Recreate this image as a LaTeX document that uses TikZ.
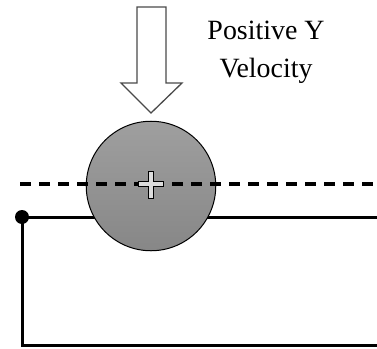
\documentclass[tikz,border=0pt]{standalone}
\usepackage{fontspec}
\setmainfont{Liberation Serif}
\definecolor{ink}{HTML}{000000}
\definecolor{muted}{HTML}{4A4A4A}
\definecolor{ballgrey}{HTML}{8E8E8E}
\definecolor{crossgrey}{HTML}{DDDDDD}
\newcommand{\figfontsize}{\fontsize{28}{38}\selectfont}
\tikzset{
  every picture/.style = {font=\figfontsize, line join=miter},
  wire/.style          = {line width=3bp, ink},
  track/.style         = {line width=3.8bp, ink, dash pattern=on 11bp off 8bp},
  hollow/.style        = {line width=1.3bp, draw=muted, fill=white},
}

\begin{document}
\begin{tikzpicture}[x=1bp, y=-1bp]
  \def\Cx{151}\def\Cy{186}\def\R{65}     % ball centre and radius
  \def\Ly{184}                           % the dashed line
  \def\Wy{217}\def\Bot{345}\def\Lx{22}   % the wire loop

  \useasboundingbox (0,0) rectangle (377,349);

  \coordinate (dot)   at (\Lx,\Wy);
  \coordinate (wireR) at (377,\Wy);
  \coordinate (cornr) at (\Lx,\Bot);
  \coordinate (botR)  at (377,\Bot);
  \coordinate (dashL) at (20,\Ly);
  \coordinate (dashR) at (377,\Ly);

  % ---------- the wire, behind the ball ---------------------------------------
  \draw[wire] (wireR) -- (dot) -- (cornr) -- (botR);
  \fill[ink] (dot) circle (7);

  % ---------- the ball ----------------------------------------------------------
  \node[circle, minimum size={2*\R}, inner sep=0pt, draw=ink, line width=1bp,
        top color=ballgrey!85!white, bottom color=ballgrey!95!black] (ball) at (\Cx,\Cy) {};

  \draw[track] (dashL) -- (dashR);

  % the plus at the centre of the ball
  \draw[line width=1bp, ink, fill=crossgrey]
    (\Cx-12.5,\Ly-2.5) -- (\Cx-2.5,\Ly-2.5) -- (\Cx-2.5,\Ly-13) -- (\Cx+2.5,\Ly-13)
    -- (\Cx+2.5,\Ly-2.5) -- (\Cx+12.5,\Ly-2.5) -- (\Cx+12.5,\Ly+2.5) -- (\Cx+2.5,\Ly+2.5)
    -- (\Cx+2.5,\Ly+14) -- (\Cx-2.5,\Ly+14) -- (\Cx-2.5,\Ly+2.5) -- (\Cx-12.5,\Ly+2.5) -- cycle;

  % ---------- the hollow arrow and its label -----------------------------------
  \draw[hollow] (137,7) -- (166,7) -- (166,83) -- (182,83) -- (151,113)
    -- (121,83) -- (137,83) -- cycle;
  \node[align=center, text=ink, inner sep=0pt] (velocity) at (266,52) {Positive Y\\Velocity};
\end{tikzpicture}
\end{document}
